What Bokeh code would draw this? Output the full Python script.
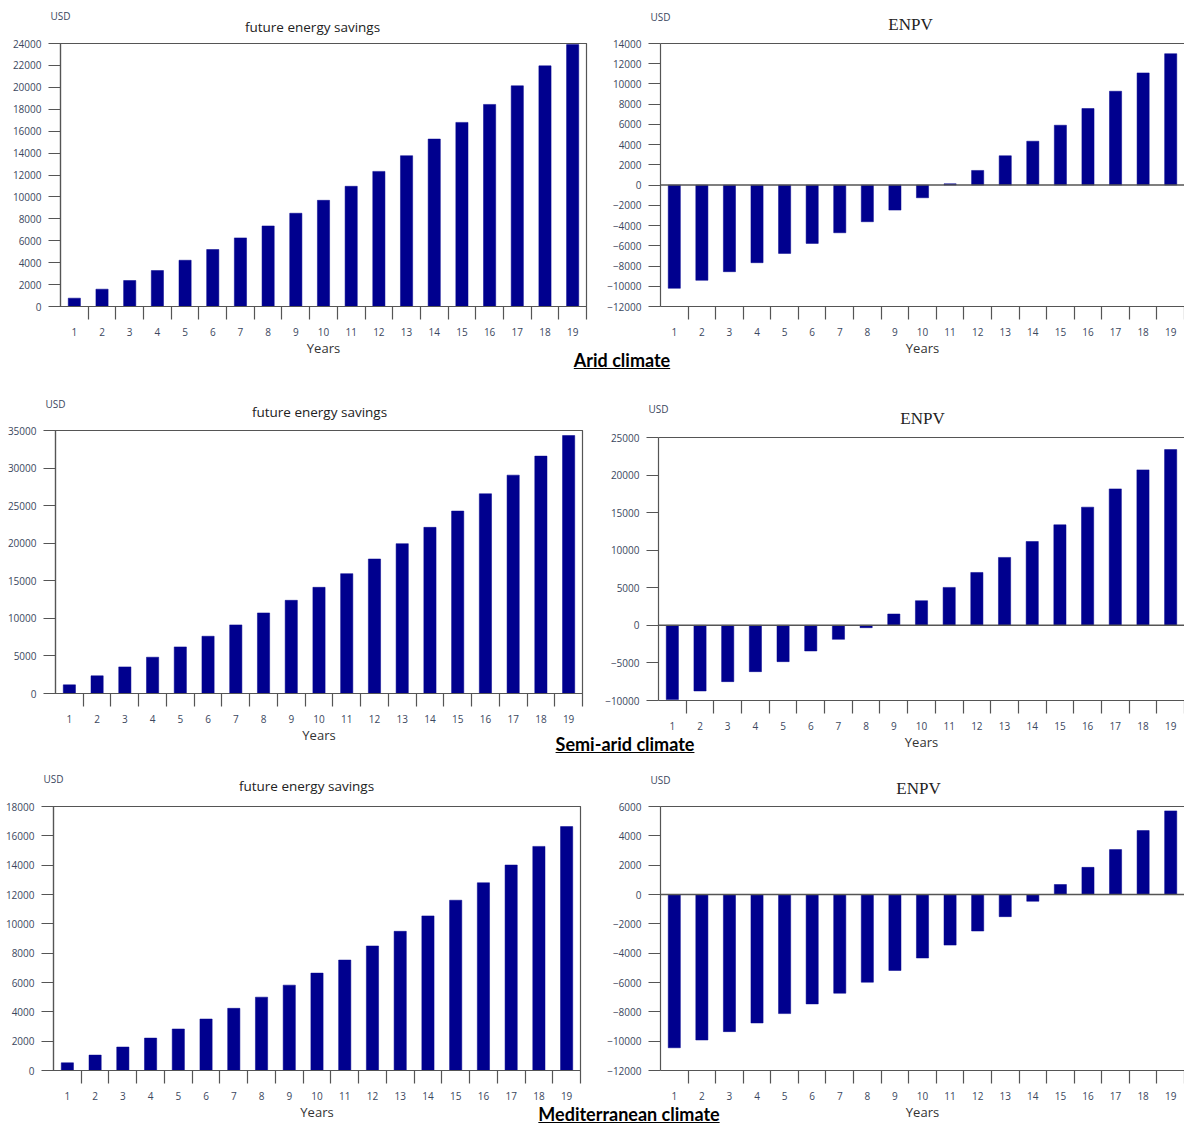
from bokeh.plotting import figure
from bokeh.layouts import column, row
from bokeh.models import FixedTicker, LinearAxis, Range1d, Span, Div
from bokeh.embed import file_html
from bokeh.resources import INLINE

# ---- data (USD per year of operation) ----
years = list(range(1, 20))

arid_savings = [760, 1580, 2370, 3280, 4220, 5200, 6260, 7350, 8510, 9690,
                10970, 12330, 13760, 15280, 16800, 18440, 20140, 21960, 23900]
arid_enpv = [-10200, -9410, -8560, -7670, -6750, -5760, -4710, -3620, -2470, -1250,
             130, 1450, 2900, 4340, 5920, 7570, 9280, 11090, 12990]

semiarid_savings = [1150, 2350, 3540, 4830, 6200, 7620, 9130, 10720, 12400, 14130,
                    15950, 17900, 19940, 22110, 24280, 26580, 29060, 31590, 34330]
semiarid_enpv = [-9880, -8730, -7490, -6160, -4830, -3410, -1860, -310, 1510, 3280,
                 5050, 7040, 9040, 11160, 13380, 15730, 18160, 20690, 23390]

med_savings = [525, 1050, 1600, 2210, 2830, 3510, 4240, 5000, 5820, 6640,
               7530, 8490, 9490, 10540, 11610, 12800, 14010, 15280, 16630]
med_enpv = [-10450, -9920, -9350, -8760, -8120, -7460, -6730, -5980, -5180, -4330,
            -3450, -2490, -1510, -460, 680, 1850, 3060, 4360, 5700]

year_labels = [str(y) for y in years]
savings_title = "future energy savings"
enpv_title = "ENPV"
unit_text = "USD"
x_title = "Years"
climates = ["Arid climate", "Semi-arid climate", "Mediterranean climate"]

BAR = "#00008E"
AXIS = "#555555"
TICK_TXT = "#3b475e"
TXT = "#333333"


def heading_axis(pos, text, font, size, color, standoff, line_color):
    """A top axis carrying a single text label and no visible ticks."""
    ax = LinearAxis(ticker=FixedTicker(ticks=[pos]), major_label_overrides={pos: text},
                    major_tick_out=0, major_tick_in=0, minor_tick_out=0, minor_tick_in=0,
                    major_tick_line_color=None, minor_tick_line_color=None,
                    major_label_standoff=standoff,
                    major_label_text_font=font, major_label_text_font_size=size,
                    major_label_text_color=color,
                    axis_line_color=line_color, axis_line_width=1.2)
    return ax


def panel(vals, y0, y1, step, title, serif, w, h, bl, br, bt, bb,
          title_cx, title_gap, usd_gap, margin=None):
    enpv = serif
    p = figure(width=w, height=h, min_border_left=bl, min_border_right=br,
               min_border_top=bt, min_border_bottom=bb,
               x_range=Range1d(0.5, 19.5), y_range=Range1d(y0, y1),
               x_axis_location=None, toolbar_location=None, title=None,
               output_backend="svg")
    if margin is not None:
        p.margin = margin
    p.border_fill_color = None
    p.background_fill_color = None
    p.grid.visible = False
    if enpv:
        p.outline_line_color = None
    else:
        p.outline_line_color = AXIS
        p.outline_line_width = 1.2

    # chart name on the top edge of the frame, currency unit above the y axis
    t_size = 17 if serif else 13.5
    t_h = t_size * (1.149 if serif else 1.362)
    t_c = t_size * (0.55 if serif else 0.57)
    fw = w - bl - br
    t_pos = round(0.5 + (title_cx - bl) * 19.0 / fw, 3)
    s_title = int(round(title_gap - t_c))
    p.add_layout(heading_axis(t_pos, title,
                              "Liberation Serif" if serif else "Open Sans",
                              "%gpx" % t_size, "#222222", s_title, AXIS), "above")
    s_usd = int(round(usd_gap - (s_title + t_h) - 8.5))
    p.add_layout(heading_axis(0.5001, unit_text, "Open Sans", "10px", TICK_TXT,
                              s_usd, None), "above")

    ya = p.yaxis[0]
    ya.ticker = FixedTicker(ticks=list(range(y0, y1 + 1, step)))
    ya.major_tick_out = 12
    ya.major_tick_in = 0
    ya.minor_tick_out = 0
    ya.minor_tick_in = 0
    ya.axis_line_color = AXIS
    ya.axis_line_width = 1.2
    ya.major_tick_line_color = AXIS
    ya.major_tick_line_width = 1.2
    ya.major_label_standoff = 7
    ya.major_label_text_font = "Open Sans"
    ya.major_label_text_font_size = "10px"
    ya.major_label_text_color = TICK_TXT

    # year numbers under each bar, separator ticks between the years
    xa = LinearAxis(ticker=FixedTicker(ticks=years, minor_ticks=[y + 0.5 for y in years]),
                    major_label_overrides={y: s for y, s in zip(years, year_labels)})
    xa.axis_line_color = AXIS
    xa.axis_line_width = 1.2
    xa.major_tick_line_color = None
    xa.major_tick_out = 13
    xa.major_tick_in = 0
    xa.minor_tick_line_color = AXIS
    xa.minor_tick_line_width = 1.2
    xa.minor_tick_out = 13
    xa.minor_tick_in = 0
    xa.major_label_standoff = 8
    xa.major_label_text_font = "Open Sans"
    xa.major_label_text_font_size = "10px"
    xa.major_label_text_color = TICK_TXT
    xa.axis_label = x_title
    xa.axis_label_standoff = 0
    xa.axis_label_text_font = "Open Sans"
    xa.axis_label_text_font_size = "13px"
    xa.axis_label_text_font_style = "normal"
    xa.axis_label_text_color = TXT
    p.add_layout(xa, "below")

    if enpv:
        p.add_layout(Span(location=0, dimension="width", line_color=AXIS, line_width=1.5))

    p.vbar(x=years, top=vals, bottom=0, width=0.44, fill_color=BAR, line_color=BAR,
           line_width=0.5)
    return p


p1 = panel(arid_savings, 0, 24000, 2000, savings_title, False, 592, 375, 60, 6, 43, 69,
           312, 16, 27)
p2 = panel(arid_enpv, -12000, 14000, 2000, enpv_title, True, 592, 375, 68, 0, 43, 69,
           318, 19, 26)

p3 = panel(semiarid_savings, 0, 35000, 5000, savings_title, False, 592, 385, 55, 10, 55, 67,
           319, 18, 26)
p4 = panel(semiarid_enpv, -10000, 25000, 5000, enpv_title, True, 592, 385, 66, 0, 55, 67,
           330, 19, 28, margin=(7, 0, 0, 0))

p5 = panel(med_savings, 0, 18000, 2000, savings_title, False, 592, 365, 53, 12, 46, 55,
           306, 20, 27)
p6 = panel(med_enpv, -12000, 6000, 2000, enpv_title, True, 592, 365, 68, 0, 46, 55,
           326, 18, 26)


def climate_div(text, cx, top_shift, bottom):
    return Div(text="<u>%s</u>" % text, width=300, height=20,
               margin=(top_shift, 0, bottom, cx - 150),
               styles={"font-family": "Lato", "font-weight": "bold", "font-size": "18px",
                       "text-align": "center", "line-height": "20px",
                       "color": "#000000", "width": "300px"})


layout = column(
    row(p1, p2),
    climate_div(climates[0], 622, -25, 5),
    row(p3, p4),
    climate_div(climates[1], 625, -33, 6),
    row(p5, p6),
    climate_div(climates[2], 629, -21, 1),
)

open("out.html", "w").write(file_html(layout, INLINE))
